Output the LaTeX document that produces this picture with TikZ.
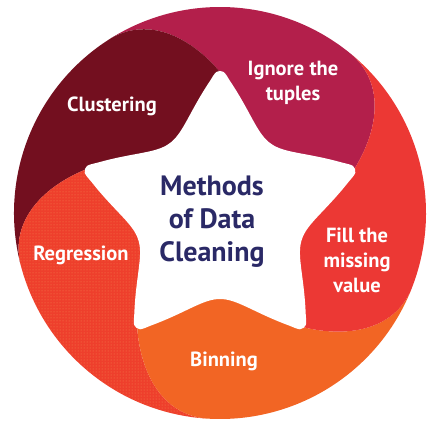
\documentclass[tikz,border=0pt]{standalone}
\usepackage{fontspec}
\setmainfont{PT Sans}
\usetikzlibrary{patterns}
\definecolor{clustcol}{HTML}{730F1F}
\definecolor{ignorecol}{HTML}{B31F4B}
\definecolor{fillcol}{HTML}{EC3834}
\definecolor{bincol}{HTML}{F26524}
\definecolor{regcol}{HTML}{EE3F2C}
\definecolor{titlecol}{HTML}{2A2966}
\begin{document}
\begin{tikzpicture}[
    x=1pt, y=1pt,
    clustseg/.style={fill=clustcol},
    ignoreseg/.style={fill=ignorecol},
    fillseg/.style={fill=fillcol},
    binseg/.style={fill=bincol},
    regseg/.style={fill=regcol, postaction={pattern=dots, pattern color=bincol!80}},
    lbl/.style={text=white, align=center, font=\fontsize{20.5}{25}\selectfont\bfseries},
    centretext/.style={text=titlecol, align=center, font=\fontsize{28}{33}\selectfont\bfseries},
]
\useasboundingbox (0,0) rectangle (440,432);

\def\Rc{206}  % outer circle
\def\Rt{141}  % star tips
\def\Ri{86}   % star valleys
\def\Dr{60}

% -- swirl segments, one per star tip --------------------------------
\begin{scope}[shift={(220,219)}]
  \foreach \a/\sty in {18/ignoreseg, 90/clustseg, 162/regseg, 234/binseg, 306/fillseg}{
    \path[\sty] (\a:\Rt) to[out=\a+40, in=\a-60] ({\a+32}:\Rc)
        arc[start angle=\a+32, end angle=\a+104, radius=\Rc]
        to[out=\a+12, in=\a+112] ({\a+72}:\Rt) -- (0,0) -- cycle;
  }
  % -- white star in the middle --------------------------------------
  \fill[white] plot[smooth cycle, domain=19.5:376.5, samples=120, variable=\t]
      (\t:{\Ri+\Dr*((mod(\t-18,72)-36)/36)^2});
\end{scope}

% -- texts ------------------------------------------------------------
\node[centretext] (methods) at (212,210) {Methods\\of Data\\Cleaning};
\node[lbl] (clust)   at (112,326) {Clustering};
\node[lbl] (ignore)  at (293,349) {Ignore the\\tuples};
\node[lbl] (fillv)   at (357,172) {Fill the\\missing\\value};
\node[lbl] (binning) at (224,71)  {Binning};
\node[lbl] (regr)    at (81,177)  {Regression};

\end{tikzpicture}
\end{document}
